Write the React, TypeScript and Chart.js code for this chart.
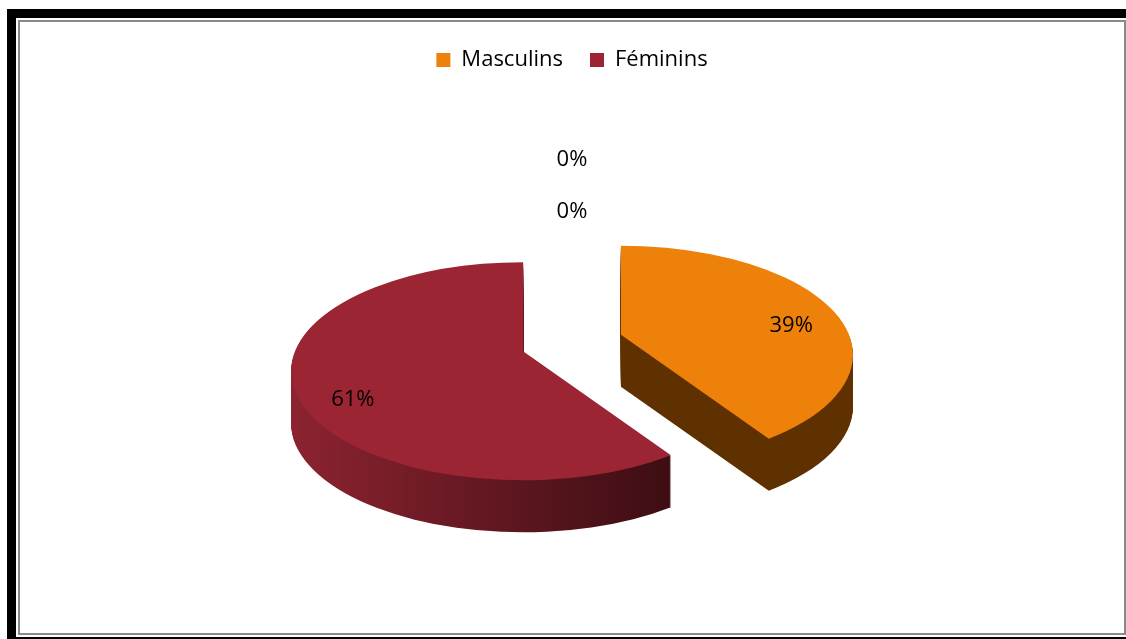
import React, { useEffect, useRef } from 'react';
import { Chart, registerables } from 'chart.js';

Chart.register(...registerables);

// ---- data ----
const categories: string[] = ['Masculins', 'Féminins', '', ''];
const values: number[] = [39, 61, 0, 0];
const percentLabels: string[] = ['39%', '61%', '0%', '0%'];

// ---- styles ----
const topColors: string[] = ['#EE810A', '#9C2533', '#4F81BD', '#8064A2'];
const sideColorStart: string[] = ['#5F3000', '#8C2331', '#2C4D75', '#4D3B62'];
const sideColorEnd: string[] = ['#5F3000', '#3B0D12', '#2C4D75', '#4D3B62'];

const SQUASH = 0.47;
const DEPTH = 52;
const EXPLODE = 52;
const APEX_LIFT = 20;
const LABEL_FRAC = 0.78;
const FONT_FAMILY = '"Open Sans", Lato, sans-serif';
const FONT_SIZE = 22;

function geom(arc: any) {
  const p = arc.getProps(['x', 'y', 'startAngle', 'endAngle', 'outerRadius'], true);
  const mid = (p.startAngle + p.endAngle) / 2;
  return {
    x: p.x,
    y: p.y,
    cx: p.x + Math.cos(mid) * EXPLODE,
    cy: p.y + Math.sin(mid) * EXPLODE * SQUASH,
    rx: p.outerRadius,
    ry: p.outerRadius * SQUASH,
    start: p.startAngle,
    end: p.endAngle,
    mid,
  };
}

function slicePath(ctx: CanvasRenderingContext2D, g: any, dy: number) {
  ctx.beginPath();
  ctx.moveTo(g.cx, g.cy + dy - APEX_LIFT);
  ctx.ellipse(g.cx, g.cy + dy, g.rx, g.ry, 0, g.start, g.end);
  ctx.closePath();
}

const pie3d = {
  id: 'pie3d',
  beforeDatasetsDraw(chart: any) {
    const ctx: CanvasRenderingContext2D = chart.ctx;
    const meta = chart.getDatasetMeta(0);
    const arcs = meta.data;
    ctx.save();
    // sides (extrusion)
    arcs.forEach((arc: any, i: number) => {
      if (!values[i]) return;
      const g = geom(arc);
      const grad = ctx.createLinearGradient(g.cx - g.rx, 0, g.cx + g.rx * 0.66, 0);
      grad.addColorStop(0, sideColorStart[i]);
      grad.addColorStop(1, sideColorEnd[i]);
      ctx.fillStyle = grad;
      for (let d = DEPTH; d >= 1; d--) {
        slicePath(ctx, g, d);
        ctx.fill();
      }
    });
    // top faces
    arcs.forEach((arc: any, i: number) => {
      if (!values[i]) return;
      const g = geom(arc);
      ctx.fillStyle = arc.options.backgroundColor;
      slicePath(ctx, g, 0);
      ctx.fill();
    });
    // labels
    ctx.font = `${FONT_SIZE}px ${FONT_FAMILY}`;
    ctx.fillStyle = '#000';
    ctx.textAlign = 'center';
    ctx.textBaseline = 'middle';
    let k = 0;
    arcs.forEach((arc: any, i: number) => {
      const g = geom(arc);
      if (values[i]) {
        const lx = g.cx + Math.cos(g.mid) * g.rx * LABEL_FRAC;
        const ly = g.cy + Math.sin(g.mid) * g.ry * LABEL_FRAC;
        ctx.fillText(percentLabels[i], lx, ly);
      } else {
        ctx.fillText(percentLabels[i], g.x, g.y - g.ry - 42 - k * 52);
        k++;
      }
    });
    ctx.restore();
    return false;
  },
};

export default function App() {
  const ref = useRef<HTMLCanvasElement>(null);
  useEffect(() => {
    if (!ref.current) return;
    const chart = new Chart(ref.current, {
      type: 'pie',
      data: {
        labels: categories,
        datasets: [
          {
            data: values,
            backgroundColor: topColors,
            borderWidth: 0,
            clip: false as any,
          },
        ],
      },
      options: {
        responsive: false,
        animation: false,
        devicePixelRatio: 1,
        radius: 232,
        layout: { padding: { top: 0, bottom: 0, left: 0, right: 0 } },
        plugins: {
          legend: {
            position: 'top',
            labels: {
              boxWidth: 14,
              boxHeight: 14,
              padding: 27,
              color: '#000',
              font: { family: FONT_FAMILY, size: FONT_SIZE },
              filter: (item: any) => !!item.text,
            },
          },
          tooltip: { enabled: false },
        },
      } as any,
      plugins: [pie3d],
    });
    return () => chart.destroy();
  }, []);

  return (
    <div style={{ position: 'fixed', inset: 0, overflow: 'hidden', background: '#fff' }}>
      <div
        style={{
          position: 'absolute',
          left: 7,
          top: 9,
          width: 1130,
          height: 637,
          boxSizing: 'border-box',
          border: '9px solid #000',
          padding: 2,
          background: '#fff',
        }}
      >
        <div
          style={{
            position: 'relative',
            width: 1104,
            height: 611,
            border: '2px solid #8a8a8a',
            overflow: 'hidden',
            background: '#fff',
          }}
        >
          <canvas ref={ref} width={1104} height={623} style={{ display: 'block', width: 1104, height: 623 }} />
        </div>
      </div>
    </div>
  );
}
